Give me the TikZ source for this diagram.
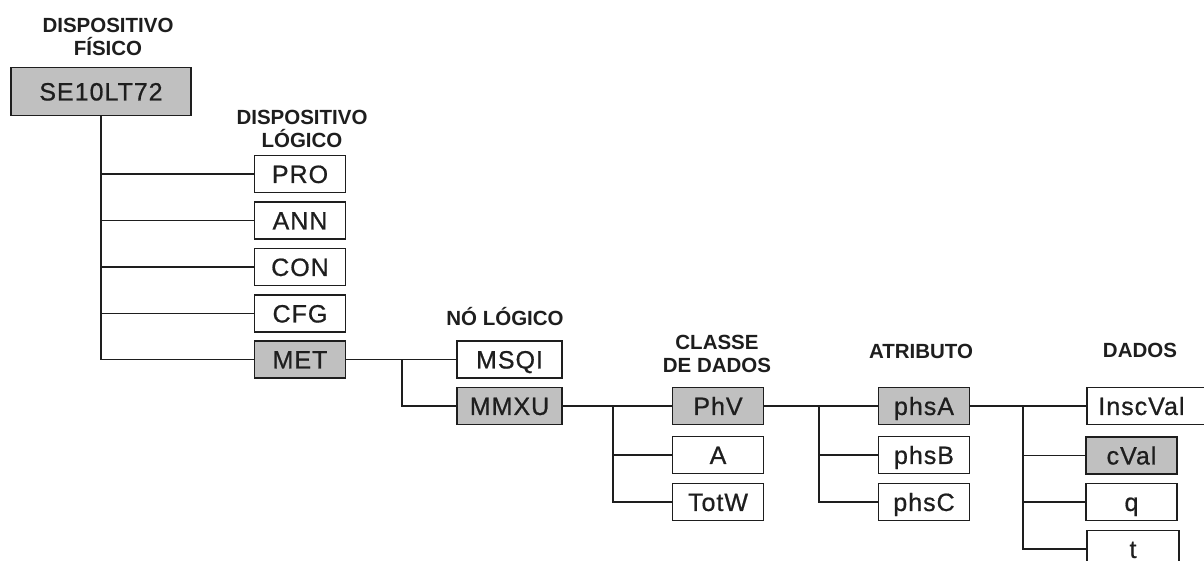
\documentclass[tikz,border=0pt]{standalone}
\usepackage{fontspec}
\setmainfont{Liberation Sans}
\newfontfamily\boxfnt[LetterSpace=4,FakeBold=0.7]{Liberation Sans}
\newfontfamily\headfnt{Liberation Sans}
\definecolor{boxgray}{HTML}{C0C0C0}
\definecolor{ink}{HTML}{1E1E1E}
\tikzset{
  box/.style={draw=ink, line width=1.8pt, fill=white, minimum height=37pt, inner sep=0pt,
    font=\boxfnt\fontsize{25}{25}\selectfont, text height=17.9pt, text depth=0pt, text=ink},
  gbox/.style={box, fill=boxgray},
  lone/.style={minimum width=91pt},
  ltwo/.style={minimum width=105pt},
  head/.style={inner sep=0pt, align=center, text=ink, font=\headfnt\bfseries\fontsize{20.5}{22.5}\selectfont},
  link/.style={draw=ink, line width=1.8pt}
}
\begin{document}
\begin{tikzpicture}[x=1pt,y=-1pt]
\clip (0,0) rectangle (1204,561);
\fill[white] (0,0) rectangle (1204,561);
% headers
\node[head, anchor=north] (hfis) at (108,18) {DISPOSITIVO\\FÍSICO};
\node[head, anchor=north] (hlog) at (302,110) {DISPOSITIVO\\LÓGICO};
\node[head, anchor=base] (hno) at (505,325) {NÓ LÓGICO};
\node[head, anchor=north] (hcls) at (717,335) {CLASSE\\DE DADOS};
\node[head, anchor=base] (hatr) at (921,358) {ATRIBUTO};
\node[head, anchor=base] (hdad) at (1140,357) {DADOS};
% nodes
\node[gbox, minimum width=180pt, minimum height=48pt] (SE) at (101,91.5) {SE10LT72};
\node[box, lone] (PRO) at (300,174) {PRO};
\node[box, lone] (ANN) at (300,220.5) {ANN};
\node[box, lone] (CON) at (300,267) {CON};
\node[box, lone] (CFG) at (300,313.5) {CFG};
\node[gbox, lone] (MET) at (300,359.5) {MET};
\node[box, ltwo] (MSQI) at (509.5,359.5) {MSQI};
\node[gbox, ltwo] (MMXU) at (509.5,406) {MMXU};
\node[gbox, lone] (PhV) at (718,406) {PhV};
\node[box, lone] (A) at (718,455) {A};
\node[box, lone] (TotW) at (718,502) {TotW};
\node[gbox, lone] (phsA) at (924,406) {phsA};
\node[box, lone] (phsB) at (924,455) {phsB};
\node[box, lone] (phsC) at (924,502) {phsC};
\node[box, minimum width=130pt, anchor=west] (InscVal) at (1086,406) {\hspace*{-21pt}InscVal};
\node[gbox, lone] (cVal) at (1131.5,455.5) {cVal};
\node[box, lone] (q) at (1131.5,502) {q};
\node[box, minimum width=92pt] (t) at (1133,549) {t};
% junctions
\coordinate (j1) at (402,359.5);
\coordinate (j2) at (613,406);
\coordinate (j3) at (819,406);
\coordinate (j4) at (1023,406);
% connectors
\draw[link] (SE.south) -- (SE.south |- MET.west) -- (MET.west);
\foreach \n in {PRO,ANN,CON,CFG} \draw[link] (SE.south |- \n.west) -- (\n.west);
\draw[link] (MET.east) -- (MSQI.west);
\draw[link] (j1) |- (MMXU.west);
\draw[link] (MMXU.east) -- (PhV.west);
\draw[link] (j2) |- (A.west);
\draw[link] (j2) |- (TotW.west);
\draw[link] (PhV.east) -- (phsA.west);
\draw[link] (j3) |- (phsB.west);
\draw[link] (j3) |- (phsC.west);
\draw[link] (phsA.east) -- (InscVal.west);
\draw[link] (j4) |- (cVal.west);
\draw[link] (j4) |- (q.west);
\draw[link] (j4) |- (t.west);
\end{tikzpicture}
\end{document}
